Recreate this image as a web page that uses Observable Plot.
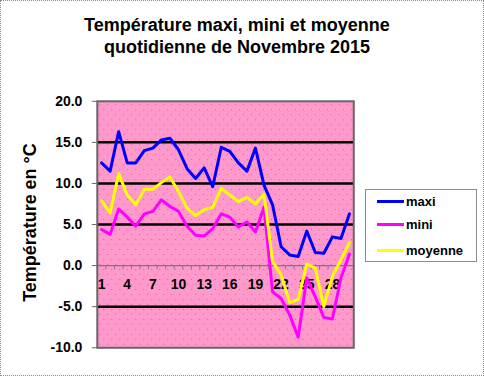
<!DOCTYPE html>
<html>
<head>
<meta charset="utf-8">
<script src="https://cdn.jsdelivr.net/npm/d3@7"></script>
<script src="https://cdn.jsdelivr.net/npm/@observablehq/plot@0.6"></script>
<style>
  body { margin: 0; background: #fff; }
  #wrap { position: relative; width: 484px; height: 376px; box-sizing: border-box; border: 1px dotted #8a8a8a; overflow: hidden;
          font-family: Arial, "Liberation Sans", sans-serif; }
  #title { position: absolute; left: 0; top: 13px; width: 472px; text-align: center; font-weight: bold; font-size: 18px; line-height: 22px; color: #000; }
  #chart { position: absolute; left: -1px; top: -1px; }
  #legend { position: absolute; left: 364px; top: 188px; width: 112px; height: 73px; box-sizing: border-box; border: 1px solid #8c8c8c; background: #fff; }
  .item { position: absolute; left: 11px; height: 16px; font-weight: bold; font-size: 13px; line-height: 16px; white-space: nowrap; }
  .sw { display: inline-block; width: 27px; height: 3px; vertical-align: middle; margin-right: 2px; position: relative; top: -1px; }
</style>
</head>
<body>
<div id="wrap">
  <div id="title">Température maxi, mini et moyenne<br>quotidienne de Novembre 2015</div>
  <div id="chart"></div>
  <div id="legend"></div>
</div>
<script>
const days = [1,2,3,4,5,6,7,8,9,10,11,12,13,14,15,16,17,18,19,20,21,22,23,24,25,26,27,28,29,30];
const maxi = [12.5,11.5,16.3,12.5,12.5,14.0,14.3,15.3,15.5,14.1,11.8,10.6,11.9,9.6,14.4,13.9,12.5,11.5,14.3,9.8,7.4,2.3,1.3,1.1,4.2,1.6,1.5,3.5,3.3,6.3];
const mini = [4.4,3.8,6.9,5.9,4.8,6.3,6.6,8.0,7.2,6.6,4.8,3.7,3.6,4.5,6.3,5.9,4.7,5.3,4.1,7.1,-3.2,-4.0,-6.0,-8.7,-1.5,-3.8,-6.3,-6.5,-1.5,1.4];
const moyenne = [7.9,6.4,11.2,8.6,7.4,9.3,9.3,10.1,10.8,9.0,7.0,6.1,6.8,7.1,9.4,8.6,7.8,8.3,7.5,8.7,0.5,-1.1,-4.5,-4.1,0.2,-0.3,-5.0,-1.3,0.7,2.8];
const seriesNames = ["maxi", "mini", "moyenne"];
const seriesColors = ["#0000ff", "#ff00ff", "#ffff00"];
const yTicks = [-10, -5, 0, 5, 10, 15, 20];
const gridValues = [-5, 5, 10, 15];
const xTickLabels = [1, 4, 7, 10, 13, 16, 19, 22, 25, 28];
const yTitle = "Température en °C";

const seriesValues = [maxi, mini, moyenne];
const rows = [];
seriesNames.forEach((s, k) => days.forEach((d, i) => rows.push({day: d, value: seriesValues[k][i], series: s})));
const bounds = days.map(d => d - 0.5).concat([days[days.length - 1] + 0.5]);

const chart = Plot.plot({
  width: 484, height: 376,
  marginTop: 101, marginBottom: 28, marginLeft: 97, marginRight: 130,
  style: {fontFamily: 'Arial, "Liberation Sans", sans-serif', color: "#000", background: "transparent"},
  x: {domain: [0.5, 30.5], axis: null},
  y: {domain: [-10, 20], axis: null},
  color: {domain: seriesNames, range: seriesColors},
  marks: [
    Plot.frame({fill: "url(#pinkdots)"}),
    Plot.ruleY(gridValues, {stroke: "#000", strokeWidth: 2.5}),
    Plot.ruleY([0], {stroke: "#7a7a7a", strokeWidth: 1.2}),
    Plot.ruleX(bounds, {x: d => d, y1: 0, y2: 0, insetBottom: -4, stroke: "#7a7a7a", strokeWidth: 1}),
    Plot.text(xTickLabels, {x: d => d, y: 0, dy: 19, text: d => String(d), fontSize: 14, fontWeight: "bold", fill: "#000"}),
    Plot.line(rows, {x: "day", y: "value", z: "series", stroke: "series", strokeWidth: 3, strokeLinejoin: "round"}),
    Plot.frame({stroke: "#666", strokeWidth: 2}),
    Plot.axisY(yTicks, {label: null, tickFormat: d => d.toFixed(1), fontSize: 14, fontWeight: "bold", tickSize: 5, tickPadding: 10, stroke: "#666", fill: "#000"}),
    Plot.text([yTitle], {frameAnchor: "left", textAnchor: "middle", dx: -67, dy: -2, rotate: -90, fontSize: 18, fontWeight: "bold", fill: "#000"})
  ]
});

// dotted pink background pattern
const svgNS = "http://www.w3.org/2000/svg";
const defs = document.createElementNS(svgNS, "defs");
defs.innerHTML = '<pattern id="pinkdots" patternUnits="userSpaceOnUse" x="97" y="101" width="8" height="10">' +
  '<rect width="8" height="10" fill="#ff99cc"></rect>' +
  '<rect x="2" y="3" width="1" height="1" fill="#d8609e"></rect>' +
  '<rect x="6" y="8" width="1" height="1" fill="#d8609e"></rect></pattern>';
chart.insertBefore(defs, chart.firstChild);
document.getElementById("chart").appendChild(chart);

// legend
const legend = document.getElementById("legend");
const legendTops = [4, 27, 53];
seriesNames.forEach((s, k) => {
  const it = document.createElement("div");
  it.className = "item";
  it.style.top = legendTops[k] + "px";
  it.innerHTML = '<span class="sw" style="background:' + seriesColors[k] + '"></span>' + s;
  legend.appendChild(it);
});
</script>
</body>
</html>
